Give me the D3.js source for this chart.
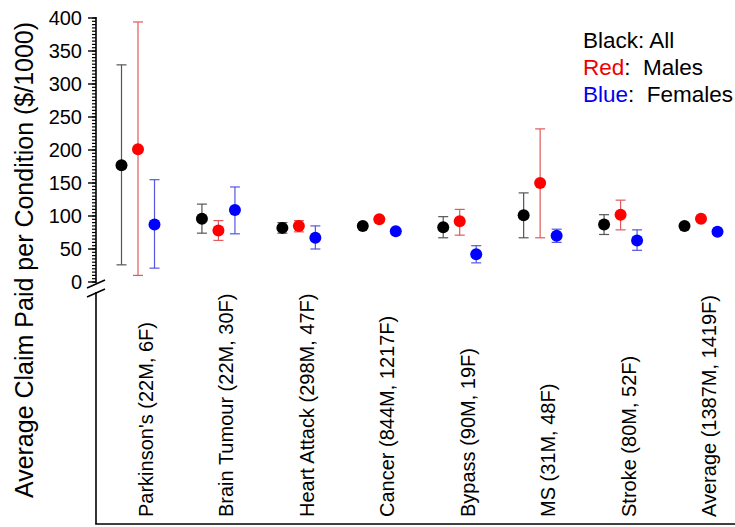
<!DOCTYPE html>
<html>
<head>
<meta charset="utf-8">
<script src="https://cdn.jsdelivr.net/npm/d3@7"></script>
<style>
  body { margin: 0; background: #fff; }
  text { font-family: Arial, "Liberation Sans", sans-serif; }
</style>
</head>
<body>
<svg id="chart" width="735" height="527"></svg>
<script>
// data ($/1000)
var conditions = ["Parkinson's (22M, 6F)", "Brain Tumour (22M, 30F)", "Heart Attack (298M, 47F)",
  "Cancer (844M, 1217F)", "Bypass (90M, 19F)", "MS (31M, 48F)", "Stroke (80M, 52F)", "Average (1387M, 1419F)"];

var allMean = [177, 96, 82, 85, 83, 101, 87, 85];
var allLow  = [26, 74, 74, 82, 67, 67, 72, 82];
var allHigh = [329, 118, 90, 88, 99, 135, 102, 88];

var maleMean = [201, 78, 85, 95, 92, 150, 102, 96];
var maleLow  = [10, 63, 76, 92, 71, 67, 79, 93];
var maleHigh = [394, 93, 93, 98, 110, 232, 124, 99];

var femaleMean = [87, 109, 67, 77, 42, 70, 63, 76];
var femaleLow  = [21, 73, 50, 74, 29, 60, 48, 73];
var femaleHigh = [155, 144, 85, 80, 55, 80, 79, 79];

var yTicks = [0, 50, 100, 150, 200, 250, 300, 350, 400];

var series = [
  {name: "all",    mean: allMean,    low: allLow,    high: allHigh,    dot: "#000", bar: "#555",    dx: -16.5},
  {name: "male",   mean: maleMean,   low: maleLow,   high: maleHigh,   dot: "#f00", bar: "#e05a5a", dx: 0},
  {name: "female", mean: femaleMean, low: femaleLow, high: femaleHigh, dot: "#00f", bar: "#5656e0", dx: 16.5}
];

var svg = d3.select("#chart");
var axisX = 96;
var breakY = 283;
var bottomY = 524;
var dotR = 6;
var capW = 5;

var x = d3.scalePoint().domain(conditions).range([138, 701]);
var y = d3.scaleLinear().domain([0, 400]).range([282, 18]);

// y axis title
svg.append("text")
  .attr("transform", "translate(33," + 260 + ") rotate(-90)")
  .style("text-anchor", "middle")
  .style("font-size", "25px")
  .style("fill", "#000")
  .text("Average Claim Paid per Condition ($/1000)");

// y axis line, broken near zero
svg.append("line")
  .attr("x1", axisX).attr("x2", axisX)
  .attr("y1", y(400) - 1).attr("y2", breakY)
  .style("stroke", "#000").style("stroke-width", 1.6);

svg.append("line")
  .attr("x1", axisX).attr("x2", axisX)
  .attr("y1", breakY + 9).attr("y2", bottomY)
  .style("stroke", "#000").style("stroke-width", 1.6);

// break marks
[breakY + 1, breakY + 10].forEach(function(by) {
  svg.append("line")
    .attr("x1", axisX - 9).attr("y1", by + 4)
    .attr("x2", axisX + 9).attr("y2", by - 4)
    .style("stroke", "#000").style("stroke-width", 1.6);
});

// minor ticks every 5
svg.selectAll(".minor")
  .data(d3.range(0, 401, 5))
  .enter().append("line")
  .attr("class", "minor")
  .attr("x1", axisX - 4).attr("x2", axisX)
  .attr("y1", function(d) { return y(d); })
  .attr("y2", function(d) { return y(d); })
  .style("stroke", "#000").style("stroke-width", 1.2);

svg.selectAll(".major")
  .data(yTicks)
  .enter().append("line")
  .attr("class", "major")
  .attr("x1", axisX - 8).attr("x2", axisX)
  .attr("y1", function(d) { return y(d); })
  .attr("y2", function(d) { return y(d); })
  .style("stroke", "#000").style("stroke-width", 1.4);

svg.selectAll(".ylab")
  .data(yTicks)
  .enter().append("text")
  .attr("class", "ylab")
  .attr("x", axisX - 14)
  .attr("y", function(d) { return y(d) + 7; })
  .style("text-anchor", "end")
  .style("font-size", "20px")
  .style("fill", "#000")
  .text(function(d) { return d; });

// bottom axis line
svg.append("line")
  .attr("x1", axisX - 0.8).attr("x2", 735)
  .attr("y1", bottomY).attr("y2", bottomY)
  .style("stroke", "#000").style("stroke-width", 1.6);

// category labels
svg.selectAll(".xlab")
  .data(conditions)
  .enter().append("text")
  .attr("class", "xlab")
  .attr("transform", function(d) { return "translate(" + (x(d) + 15) + "," + 517 + ") rotate(-90)"; })
  .style("text-anchor", "start")
  .style("font-size", "20px")
  .style("fill", "#000")
  .text(function(d) { return d; });

// error bars and dots
series.forEach(function(s) {
  var g = svg.append("g").attr("class", s.name);
  var rows = conditions.map(function(c, i) {
    return {c: c, mean: s.mean[i], low: s.low[i], high: s.high[i]};
  });
  var cx = function(d) { return x(d.c) + s.dx; };

  g.selectAll(".whisker")
    .data(rows)
    .enter().append("line")
    .attr("x1", cx).attr("x2", cx)
    .attr("y1", function(d) { return y(d.low); })
    .attr("y2", function(d) { return y(d.high); })
    .style("stroke", s.bar).style("stroke-width", 1.2);

  ["low", "high"].forEach(function(k) {
    g.selectAll(".cap-" + k)
      .data(rows)
      .enter().append("line")
      .attr("x1", function(d) { return cx(d) - capW; })
      .attr("x2", function(d) { return cx(d) + capW; })
      .attr("y1", function(d) { return y(d[k]); })
      .attr("y2", function(d) { return y(d[k]); })
      .style("stroke", s.bar).style("stroke-width", 1.2);
  });

  g.selectAll("circle")
    .data(rows)
    .enter().append("circle")
    .attr("cx", cx)
    .attr("cy", function(d) { return y(d.mean); })
    .attr("r", dotR)
    .style("fill", s.dot);
});

// legend
var legend = [
  {key: "Black", rest: ": All", color: "#000"},
  {key: "Red", rest: ":  Males", color: "#e00"},
  {key: "Blue", rest: ":  Females", color: "#00e"}
];
legend.forEach(function(l, i) {
  var t = svg.append("text")
    .attr("x", 583)
    .attr("y", 48 + i * 27)
    .style("font-size", "22.5px")
    .style("fill", "#000")
    .attr("xml:space", "preserve");
  t.append("tspan").style("fill", l.color).text(l.key);
  t.append("tspan").text(l.rest);
});
</script>
</body>
</html>
